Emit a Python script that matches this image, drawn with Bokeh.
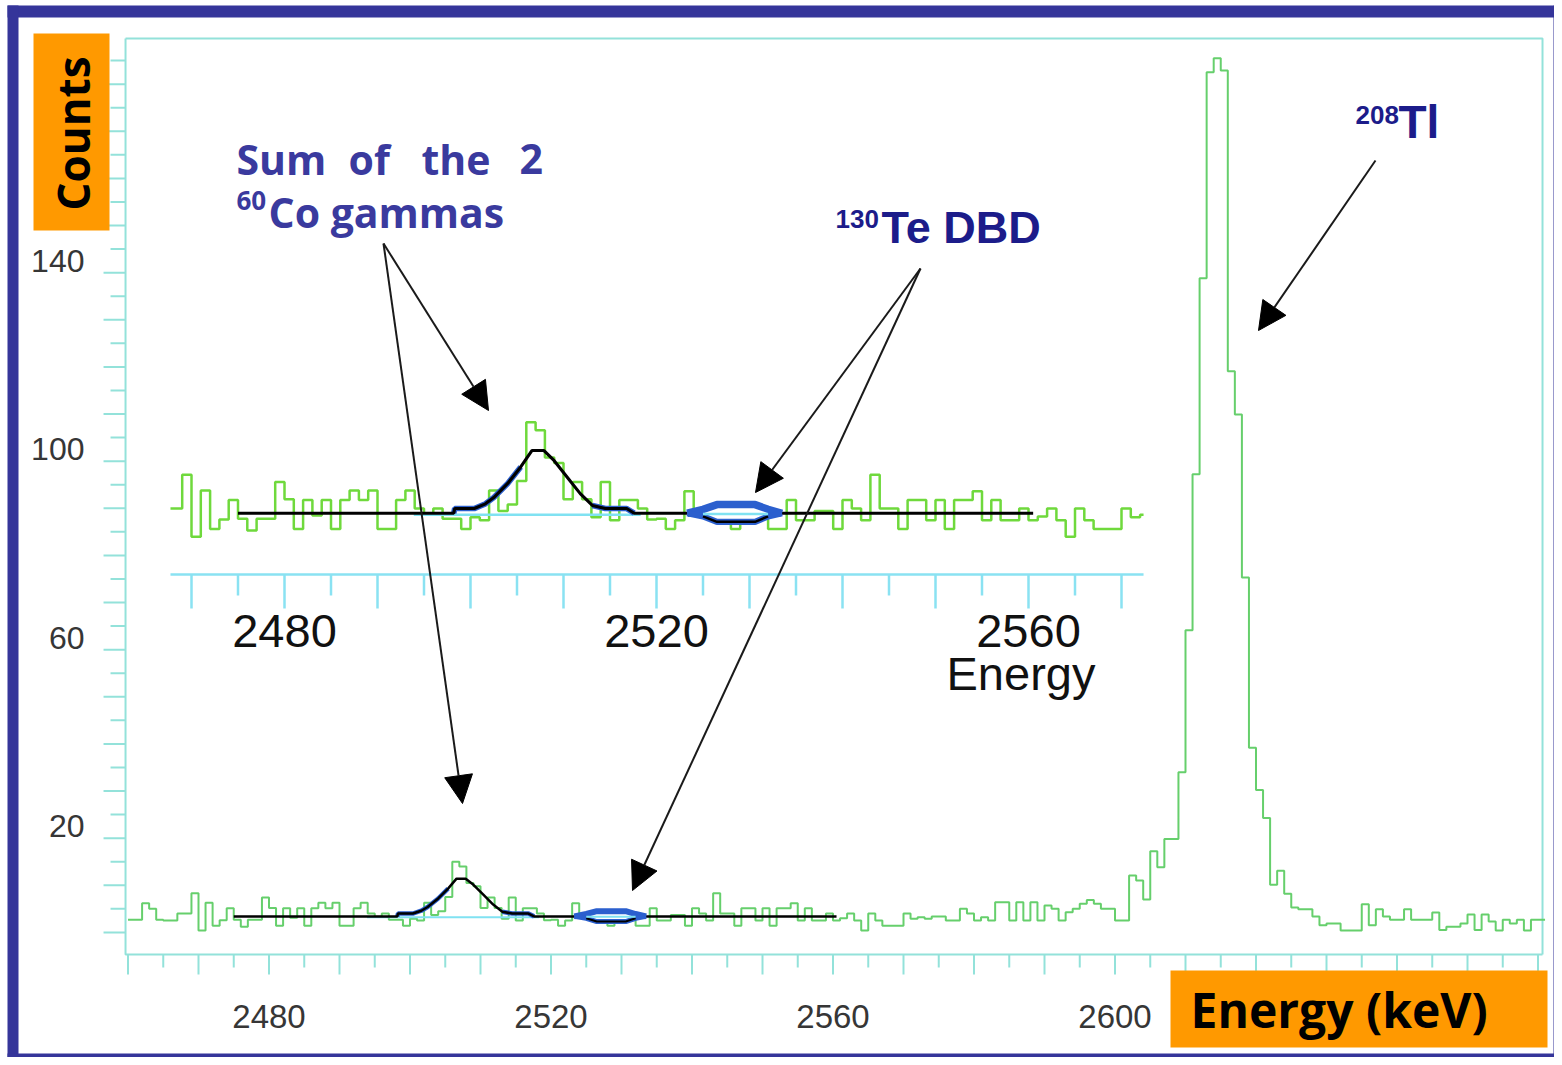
from bokeh.plotting import figure
from bokeh.models import Range1d, BoxAnnotation, Label, Arrow, NormalHead
from bokeh.core.properties import value
from bokeh.embed import file_html
from bokeh.resources import INLINE

# ---------------- data ----------------
BIN_START_KEV = 2460   # left edge of the first 1-keV bin
counts = [
    2.7, 2.7, 6.2, 5.0, 2.7, 2.5, 2.5, 4.0, 4.0, 8.3,        # 2460
    0.4, 6.3, 1.4, 2.6, 5.1, 2.7, 1.2, 2.7, 2.7, 7.4,        # 2470
    5.2, 1.4, 5.1, 3.1, 5.1, 1.4, 5.1, 6.3, 5.1, 6.3,        # 2480
    1.4, 1.4, 5.1, 6.3, 4.0, 3.3, 4.0, 2.7, 2.7, 1.4,        # 2490
    2.9, 2.5, 6.3, 3.7, 4.5, 7.5, 15.0, 14.0, 10.5, 9.8,     # 2500
    5.2, 7.4, 5.2, 2.9, 7.4, 2.5, 5.1, 5.1, 4.0, 2.6,        # 2510
    2.7, 1.4, 2.5, 6.2, 3.3, 3.0, 2.7, 3.3, 1.4, 3.0,        # 2520
    3.0, 2.7, 1.4, 1.4, 5.1, 2.5, 2.5, 3.7, 3.7, 1.4,        # 2530
    5.1, 4.0, 2.5, 8.3, 4.0, 4.0, 1.4, 5.1, 5.1, 2.5,        # 2540
    5.1, 1.4, 5.1, 5.1, 6.2, 2.5, 5.1, 2.5, 2.5, 4.0,        # 2550
    2.5, 3.0, 4.0, 2.5, 0.4, 4.0, 2.5, 1.4, 1.4, 1.4,        # 2560
    4.0, 2.9, 3.2, 2.9, 3.4, 3.4, 2.5, 2.5, 5.0, 4.0,        # 2570
    2.5, 3.2, 2.5, 6.4, 6.4, 2.5, 6.4, 2.5, 6.4, 2.5,        # 2580
    5.7, 5.0, 2.5, 4.3, 5.0, 6.1, 6.9, 6.1, 5.0, 5.0,        # 2590
    2.5, 2.5, 12.1, 11.0, 7.0, 17.2, 13.8, 19.8, 19.8, 34.0, # 2600
    64.1, 97.2, 138.8, 182.5, 185.5, 182.9, 119.1, 109.9, 75.3, 39.2,  # 2610
    30.2, 24.3, 10.1, 13.1, 8.2, 5.3, 4.9, 4.9, 3.4, 1.5,    # 2620
    1.9, 1.9, 0.4, 0.4, 0.4, 6.0, 1.5, 4.9, 3.4, 2.7,        # 2630
    2.7, 4.9, 2.7, 2.7, 2.7, 4.2, 0.5, 1.2, 1.2, 1.9,        # 2640
    3.8, 0.5, 3.8, 2.3, 0.4, 2.7, 1.9, 2.7, 0.4, 2.7,        # 2650
    2.7,                                                     # 2660
]
energy = [BIN_START_KEV + i for i in range(len(counts))]

# fit of the 60Co sum peak (black curve)
co_fit_e = [2475.0, 2498.2, 2498.3, 2500.4, 2501.6, 2502.5, 2504.0, 2505.4, 2506.6,
            2507.9, 2509.0, 2510.4, 2511.8, 2513.1, 2514.5, 2516.8, 2517.6, 2560.5]
co_fit_c = [3.4, 3.4, 4.0, 4.0, 4.6, 5.4, 7.2, 9.3, 11.4,
            11.4, 10.1, 8.0, 5.9, 4.4, 4.0, 4.0, 3.4, 3.4]
# flat background component (cyan)
bkg_e = [2493.9, 2518.3]
bkg_c = [3.2, 3.2]
# 130Te DBD region: fitted band (upper blue / lower black)
dbd_e = [2523.3, 2525.0, 2526.5, 2530.6, 2532.0, 2533.5]
dbd_hi = [3.4, 3.9, 4.5, 4.5, 3.9, 3.4]
dbd_lo = [3.4, 3.0, 2.3, 2.3, 3.0, 3.4]
dbd_mid = [3.3, 3.3]

# main axes: extent and ticks
axis_e = [2459.65, 2660.64]
axis_c = [-4.69, 189.69]
x_major = list(range(2460, 2661, 10))
x_minor = list(range(2465, 2661, 10))
x_labels = [2480, 2520, 2560, 2600]
y_major = list(range(0, 186, 10))
y_minor = list(range(5, 186, 10))
y_labels = [20, 60, 100, 140]
# inset axis
inset_window = [2467.74, 2572.37]
inset_major = list(range(2470, 2571, 10))
inset_minor = list(range(2475, 2571, 10))
inset_labels = [2480, 2520, 2560]

# ---------------- layout / style ----------------
W, H = 1554, 1057
MAIN_PX_PER_KEV, MAIN_E_REF, MAIN_X_REF = 7.05, 2460.0, 127.5
MAIN_PX_PER_CNT, MAIN_Y0 = 4.7125, 931.9
INS_PX_PER_KEV, INS_E_REF, INS_X_REF = 9.3, 2480.0, 284.0
INS_PX_PER_CNT, INS_Y0 = 7.84, 539.4

X_START = MAIN_E_REF - MAIN_X_REF / MAIN_PX_PER_KEV
X_END = X_START + W / MAIN_PX_PER_KEV
Y_END = MAIN_Y0 / MAIN_PX_PER_CNT
Y_START = Y_END - H / MAIN_PX_PER_CNT
IX_START = INS_E_REF - INS_X_REF / INS_PX_PER_KEV
IX_END = IX_START + W / INS_PX_PER_KEV
IY_END = INS_Y0 / INS_PX_PER_CNT
IY_START = IY_END - H / INS_PX_PER_CNT


def mx(px):
    return X_START + px / MAIN_PX_PER_KEV


def my(py):
    return Y_END - py / MAIN_PX_PER_CNT


def ix(px):
    return IX_START + px / INS_PX_PER_KEV


def iy(py):
    return IY_END - py / INS_PX_PER_CNT


AXIS_COL = "#93e2da"
INSET_AXIS_COL = "#8ae2f2"
GREEN_MAIN = "#66cf6c"
GREEN_INSET = "#6fd93c"
BLUE = "#2b5fce"
CYAN_FIT = "#80e2f2"
BORDER = "#35359a"
ORANGE = "#ff9900"
TXT_BLUE = "#3a3a9e"
TXT_NAVY = "#1c1c8a"
COMIC = "Open Sans"
NUMF = "Liberation Sans"
NUM_COL = "#363636"

p = figure(width=W, height=H,
           x_range=Range1d(X_START, X_END), y_range=Range1d(Y_START, Y_END),
           output_backend="svg", toolbar_location=None,
           x_axis_location=None, y_axis_location=None,
           min_border=0, min_border_left=0, min_border_right=0,
           min_border_top=0, min_border_bottom=0)
p.extra_x_ranges = {"inset": Range1d(IX_START, IX_END)}
p.extra_y_ranges = {"inset": Range1d(IY_START, IY_END)}
p.background_fill_color = "white"
p.border_fill_color = "white"
p.outline_line_color = None
p.xgrid.grid_line_color = None
p.ygrid.grid_line_color = None

# ---------------- main axes (box, ticks, labels) ----------------
e0, e1 = axis_e
c0, c1 = axis_c
p.line([e0, e1, e1], [c1, c1, c0], line_color=AXIS_COL, line_width=2)   # top/right frame
p.line([e0, e0, e1], [c1, c0, c0], line_color=AXIS_COL, line_width=2)   # y / x axis lines
XT_LONG = 20 / MAIN_PX_PER_CNT
XT_SHORT = 13 / MAIN_PX_PER_CNT
YT_LONG = 22 / MAIN_PX_PER_KEV
YT_SHORT = 15 / MAIN_PX_PER_KEV
p.segment(x0=x_major, x1=x_major, y0=[c0] * len(x_major), y1=[c0 - XT_LONG] * len(x_major),
          line_color=AXIS_COL, line_width=2)
p.segment(x0=x_minor, x1=x_minor, y0=[c0] * len(x_minor), y1=[c0 - XT_SHORT] * len(x_minor),
          line_color=AXIS_COL, line_width=2)
p.segment(x0=[e0] * len(y_major), x1=[e0 - YT_LONG] * len(y_major), y0=y_major, y1=y_major,
          line_color=AXIS_COL, line_width=2)
p.segment(x0=[e0] * len(y_minor), x1=[e0 - YT_SHORT] * len(y_minor), y0=y_minor, y1=y_minor,
          line_color=AXIS_COL, line_width=2)
p.text(x=x_labels, y=[my(1015.5)] * len(x_labels), text=[str(t) for t in x_labels],
       text_align="center", text_baseline="middle", text_font=value(NUMF),
       text_font_size="33px", text_color=NUM_COL)
Y_LABEL_RAISE = 12 / MAIN_PX_PER_CNT
p.text(x=[mx(84)] * len(y_labels), y=[t + Y_LABEL_RAISE for t in y_labels],
       text=[str(t) for t in y_labels], text_align="right", text_baseline="middle",
       text_font=value(NUMF), text_font_size="32px", text_color=NUM_COL)

# ---------------- main spectrum ----------------
p.step(x=energy + [energy[-1] + 1], y=counts + [counts[-1]], mode="after",
       line_color=GREEN_MAIN, line_width=2)


def draw_fit(w, **rk):
    p.line(bkg_e, bkg_c, line_color=CYAN_FIT, line_width=2 * w, **rk)
    p.line(co_fit_e[1:8], co_fit_c[1:8], line_color=BLUE, line_width=4.5 * w, **rk)
    p.line(co_fit_e[13:17], co_fit_c[13:17], line_color=BLUE, line_width=4.5 * w, **rk)
    p.line(co_fit_e, co_fit_c, line_color="black", line_width=2.5 * w, **rk)
    p.varea(x=dbd_e, y1=dbd_lo, y2=dbd_hi, fill_color="white", **rk)
    p.line(dbd_e, dbd_hi, line_color=BLUE, line_width=6 * w, **rk)
    p.line(dbd_e, dbd_lo, line_color=BLUE, line_width=5 * w, **rk)
    p.line(dbd_e[1:5], dbd_lo[1:5], line_color="black", line_width=2 * w, **rk)
    p.line([dbd_e[1], dbd_e[-2]], dbd_mid, line_color=CYAN_FIT, line_width=2 * w, **rk)


draw_fit(1.0)

# ---------------- inset (zoomed copy of the 2468-2572 keV region) ----------------
IR = dict(x_range_name="inset", y_range_name="inset")
lo, hi = inset_window
sel = [i for i, e in enumerate(energy) if e + 1 > lo and e < hi]
ins_x = [max(energy[i], lo) for i in sel] + [hi]
ins_y = [counts[i] for i in sel] + [counts[sel[-1]]]
p.step(x=ins_x, y=ins_y, mode="after", line_color=GREEN_INSET, line_width=2.5, **IR)
draw_fit(1.25, **IR)

AX_Y = iy(574)
LONG_T = iy(608)
SHORT_T = iy(595)
p.segment(x0=[lo], x1=[hi], y0=[AX_Y], y1=[AX_Y], line_color=INSET_AXIS_COL, line_width=2.5, **IR)
p.segment(x0=inset_major, x1=inset_major, y0=[AX_Y] * len(inset_major),
          y1=[LONG_T] * len(inset_major), line_color=INSET_AXIS_COL, line_width=2.5, **IR)
p.segment(x0=inset_minor, x1=inset_minor, y0=[AX_Y] * len(inset_minor),
          y1=[SHORT_T] * len(inset_minor), line_color=INSET_AXIS_COL, line_width=2.5, **IR)
p.text(x=inset_labels, y=[iy(630)] * len(inset_labels), text=[str(t) for t in inset_labels],
       text_align="center", text_baseline="middle", text_font=value(NUMF),
       text_font_size="47px", text_color="#111111", **IR)
p.text(x=[ix(946)], y=[iy(673)], text=["Energy"], text_align="left", text_baseline="middle",
       text_font=value(NUMF), text_font_size="47px", text_color="#111111", **IR)

# ---------------- arrows ----------------
arrows = [((383, 243), (488, 410)), ((383, 243), (462, 803)),
          ((920, 268), (755, 492)), ((920, 268), (632, 890)),
          ((1375, 160), (1258, 330))]
for (x0, y0), (x1, y1) in arrows:
    p.add_layout(Arrow(x_start=mx(x0), y_start=my(y0), x_end=mx(x1), y_end=my(y1),
                       line_color="#1a1a1a", line_width=2,
                       end=NormalHead(size=28, fill_color="black", line_color="black")))


# ---------------- texts ----------------
def txt(px, py, s, size, color, font, style="bold", angle=0, align="left"):
    p.add_layout(Label(x=mx(px), y=my(py), text=s, text_align=align,
                       text_baseline="middle", text_font=font, angle=angle,
                       angle_units="deg", text_font_style=style,
                       text_font_size=size, text_color=color))


for px, word in [(236, "Sum"), (348, "of"), (421, "the"), (519, "2")]:
    txt(px, 158, word, "41px", TXT_BLUE, COMIC)
txt(236, 200, "60", "26px", TXT_BLUE, COMIC)
txt(268, 211, "Co gammas", "41px", TXT_BLUE, COMIC)
txt(835, 218, "130", "26px", TXT_NAVY, NUMF)
txt(881, 227, "Te DBD", "45px", TXT_NAVY, NUMF)
txt(1355, 114, "208", "26px", TXT_NAVY, NUMF)
txt(1398, 121, "Tl", "46px", TXT_NAVY, NUMF)


# ---------------- boxes ----------------
def box(l, t, r, b, color):
    p.add_layout(BoxAnnotation(left=mx(l), right=mx(r), top=my(t), bottom=my(b),
                               fill_color=color, fill_alpha=1.0, line_color=None))


box(7, 5, 1600, 17, BORDER)
box(7, 5, 18, 1100, BORDER)
box(1553, 5, 1600, 1100, BORDER)
box(7, 1053, 1600, 1100, BORDER)
box(33, 33, 109, 230, ORANGE)
box(1170, 970, 1547, 1047, ORANGE)
txt(72, 133, "Counts", "44px", "black", COMIC, angle=90, align="center")
txt(1190, 1009, "Energy (keV)", "48px", "black", COMIC)

open("out.html", "w").write(file_html(p, INLINE))
